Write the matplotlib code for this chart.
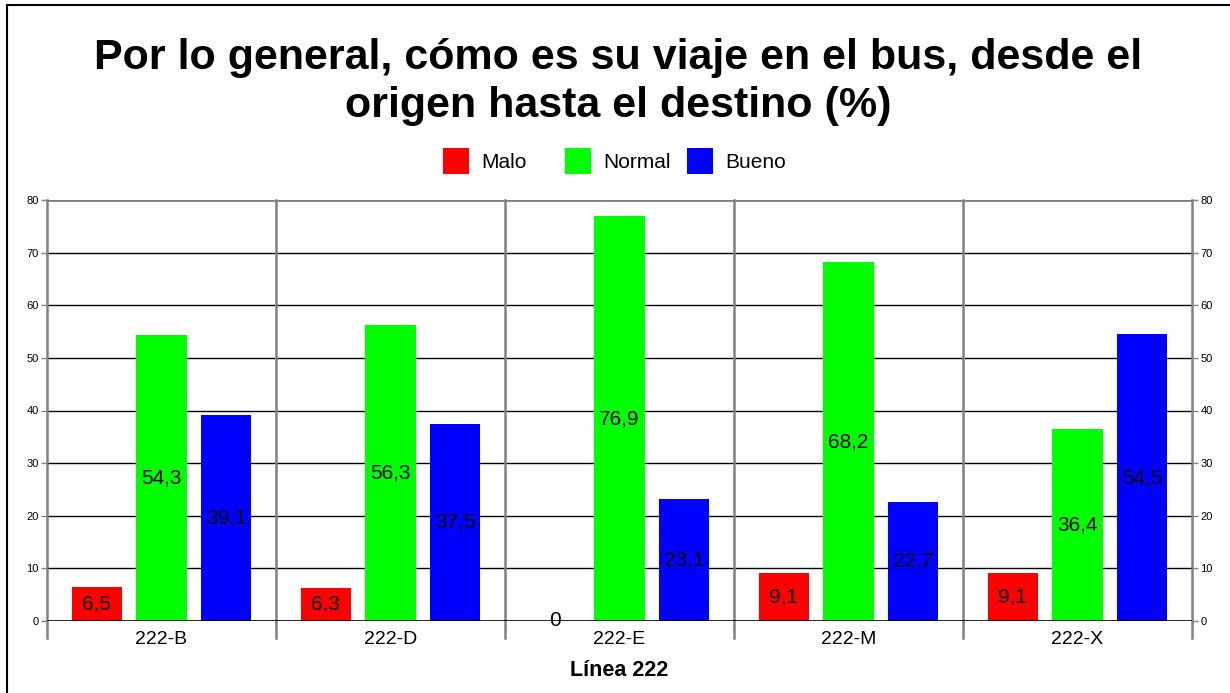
import matplotlib
matplotlib.use("Agg")
import matplotlib.pyplot as plt
import numpy as np
from matplotlib.patches import Rectangle
from matplotlib.lines import Line2D

plt.rcParams['font.family'] = ['Liberation Sans', 'DejaVu Sans']

categories = ["222-B", "222-D", "222-E", "222-M", "222-X"]
series_names = ["Malo", "Normal", "Bueno"]
malo = [6.5, 6.3, 0.0, 9.1, 9.1]
normal = [54.3, 56.3, 76.9, 68.2, 36.4]
bueno = [39.1, 37.5, 23.1, 22.7, 54.5]
colors = ["#ff0000", "#00ff00", "#0000ff"]
y_ticks = [0, 10, 20, 30, 40, 50, 60, 70, 80]

title = "Por lo general, cómo es su viaje en el bus, desde el\norigen hasta el destino (%)"
x_title = "Línea 222"

W, H = 1230, 693
fig = plt.figure(figsize=(W / 100, H / 100), dpi=100)
ax = fig.add_axes([47 / W, 1 - 621 / H, (1192 - 47) / W, (621 - 200) / H])

x = np.arange(len(categories))
width = 0.22
offsets = [-0.283, 0.0, 0.283]
grey = "#808080"

for vals, off, col in zip([malo, normal, bueno], offsets, colors):
    bars = ax.bar(x + off, vals, width, color=col, edgecolor="none", zorder=3)
    for b, v in zip(bars, vals):
        label = f"{v:.1f}".replace(".", ",") if v != 0 else "0"
        ax.text(b.get_x() + b.get_width() / 2, v / 2, label,
                ha="center", va="center", fontsize=15, color="black", zorder=6)

ax.set_xlim(-0.5, len(categories) - 0.5)
ax.set_ylim(0, 80)

# horizontal grid
for t in y_ticks[1:-1]:
    ax.axhline(t, color="black", lw=1, zorder=1)
ax.axhline(0, color="black", lw=1.2, zorder=5)
ax.axhline(80, color=grey, lw=2, zorder=1)

# group separators, extended below the baseline
for b in np.arange(-0.5, len(categories), 1.0):
    ax.add_line(Line2D([b, b], [-0.04, 1.0], transform=ax.get_xaxis_transform(),
                       color=grey, lw=1.8, clip_on=False, zorder=2))

for s in ax.spines.values():
    s.set_visible(False)

ax.set_yticks(y_ticks)
ax.tick_params(axis="y", which="both", left=True, right=True, labelleft=True,
               labelright=True, length=4, width=1, color=grey, labelsize=8, pad=2)
ax.set_xticks(x)
ax.set_xticklabels(categories, fontsize=14)
ax.tick_params(axis="x", length=0, pad=7)
ax.set_xlabel(x_title, fontsize=15.5, fontweight="bold", labelpad=9)

fig.text(618 / W, 1 - 82 / H, title, ha="center", va="center",
         fontsize=31, fontweight="bold", linespacing=1.23)

# legend with evenly spaced entries
legend_x0, legend_step, legend_y = 443, 122, 161
box = 26
for i, (name, col) in enumerate(zip(series_names, colors)):
    px = legend_x0 + i * legend_step
    fig.add_artist(Rectangle((px / W, 1 - (legend_y + box / 2) / H), box / W, box / H,
                             transform=fig.transFigure, facecolor=col, edgecolor="none"))
    fig.text((px + box + 12) / W, 1 - (legend_y + 2) / H, name, ha="left", va="center",
             fontsize=15)

# page frame on the left and top
fig.add_artist(Line2D([7 / W, 7 / W], [0, 1 - 5 / H], transform=fig.transFigure,
                      color="black", lw=1.5))
fig.add_artist(Line2D([7 / W, 1], [1 - 5 / H, 1 - 5 / H], transform=fig.transFigure,
                      color="black", lw=1.5))

fig.savefig("out.png", dpi=100)
